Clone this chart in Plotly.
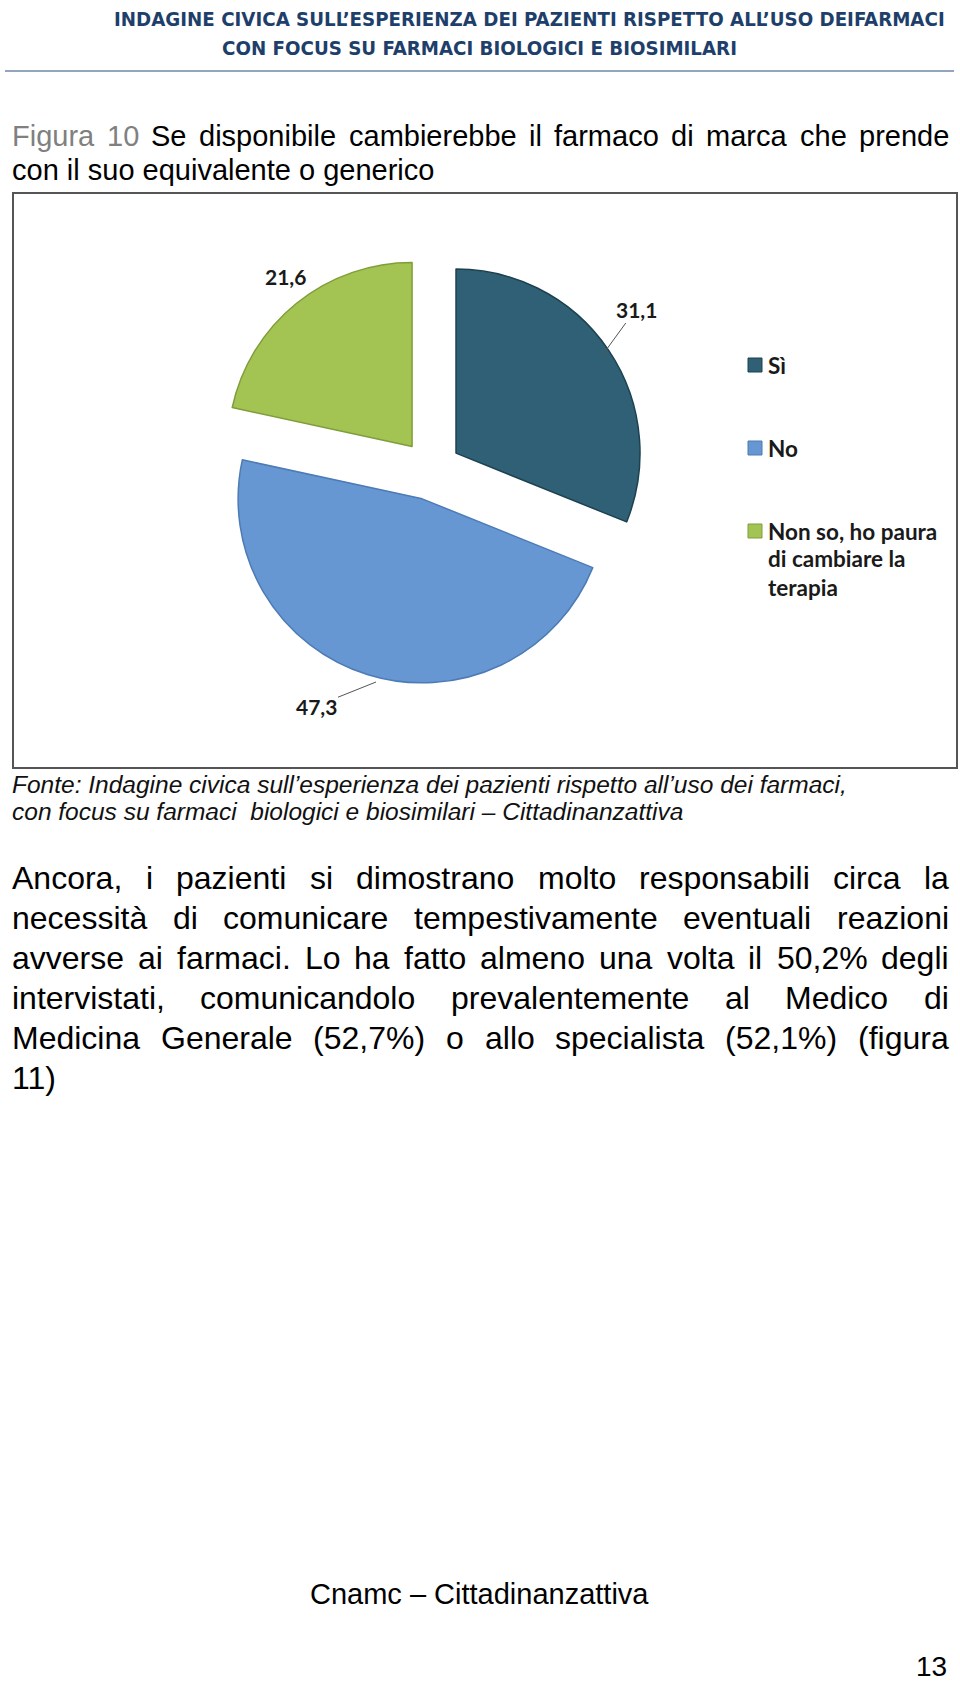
import plotly.graph_objects as go

W, H = 960, 1684

# ---------------- data ----------------
categories = ["Sì", "No", "Non so, ho paura di cambiare la terapia"]
values = [31.1, 47.3, 21.6]
legend_labels = ["Sì", "No", "Non so, ho paura<br>di cambiare la<br>terapia"]
slice_colors = ["#2f6075", "#6797d2", "#a3c453"]
slice_edges = ["#1d4150", "#4c7bb5", "#7f9d3a"]

header_lines = [
    "INDAGINE CIVICA SULL’ESPERIENZA DEI PAZIENTI RISPETTO ALL’USO DEIFARMACI",
    "CON FOCUS SU FARMACI BIOLOGICI E BIOSIMILARI",
]
title_prefix = "Figura 10"
title_line1 = "Se disponibile cambierebbe il farmaco di marca che prende"
title_line2 = "con il suo equivalente o generico"
source_lines = [
    "Fonte: Indagine civica sull’esperienza dei pazienti rispetto all’uso dei farmaci,",
    "con focus su farmaci  biologici e biosimilari – Cittadinanzattiva",
]
body_lines = [
    "Ancora, i pazienti si dimostrano molto responsabili circa la",
    "necessità di comunicare tempestivamente eventuali reazioni",
    "avverse ai farmaci. Lo ha fatto almeno una volta il 50,2% degli",
    "intervistati, comunicandolo prevalentemente al Medico di",
    "Medicina Generale (52,7%) o allo specialista (52,1%) (figura",
    "11)",
]
footer_text = "Cnamc – Cittadinanzattiva"
page_number = "13"

# ---------------- helpers ----------------
def px(x):
    return x / W

def py(y):
    return 1 - y / H

# Arial / Liberation Sans advance widths (1/1000 em)
AW = {' ': 278, '!': 278, '%': 889, '(': 333, ')': 333, ',': 278, '-': 333, '.': 278,
      ':': 278, '’': 222, '–': 556, 'à': 556, 'ì': 278}
for ch in '0123456789':
    AW[ch] = 556
AW.update(dict(zip('ABCDEFGHIJKLMNOPQRSTUVWXYZ',
                   [667, 667, 722, 722, 667, 611, 778, 722, 278, 500, 667, 556, 833,
                    722, 778, 667, 778, 722, 667, 611, 722, 667, 944, 667, 667, 611])))
AW.update(dict(zip('abcdefghijklmnopqrstuvwxyz',
                   [556, 556, 500, 556, 556, 278, 556, 556, 222, 222, 500, 222, 833,
                    556, 556, 556, 556, 333, 500, 278, 556, 500, 722, 500, 500, 500])))

def tw(s, fs):
    return sum(AW.get(c, 556) for c in s) / 1000.0 * fs

SANS = "Liberation Sans, Arial, sans-serif"
annotations = []

def add_text(x, y, text, size, color="#000000", family=SANS, xanchor="left", bold=False,
             italic=False, yanchor="middle"):
    if bold:
        text = "<b>" + text + "</b>"
    if italic:
        text = "<i>" + text + "</i>"
    annotations.append(dict(x=px(x), y=py(y), xref="paper", yref="paper", text=text,
                            showarrow=False, xanchor=xanchor, yanchor=yanchor,
                            borderpad=0, font=dict(size=size, color=color, family=family)))

def justify(words, colors, x0, x1, y, fs):
    total = sum(tw(w, fs) for w in words)
    gap = (x1 - x0 - total) / max(len(words) - 1, 1)
    gap = max(gap, 0.2 * fs)
    x = x0
    for w, c in zip(words, colors):
        add_text(x, y, w, fs, color=c)
        x += tw(w, fs) + gap

# ---------------- page header ----------------
HEAD_FONT = "DejaVu Sans Condensed, Liberation Sans, sans-serif"
add_text(946, 19, header_lines[0], 20.3, color="#1f3f6b", family=HEAD_FONT, bold=True,
         xanchor="right")
add_text(221, 48, header_lines[1], 20.3, color="#1f3f6b", family=HEAD_FONT, bold=True)

# ---------------- figure title ----------------
TFS = 29
t1_words = title_prefix.split(" ") + title_line1.split(" ")
t1_colors = ["#808080"] * len(title_prefix.split(" ")) + ["#000000"] * len(title_line1.split(" "))
justify(t1_words, t1_colors, 11, 948, 136, TFS)
add_text(11, 170, title_line2, TFS)

# ---------------- source ----------------
add_text(11, 784, source_lines[0], 24.5, color="#111111", italic=True)
add_text(11, 811, source_lines[1], 24.5, color="#111111", italic=True)

# ---------------- body paragraph ----------------
BFS = 32
body_y = [878, 918, 958, 998, 1038, 1078]
for i, (line, yy) in enumerate(zip(body_lines, body_y)):
    if i < len(body_lines) - 1:
        ws = line.split(" ")
        justify(ws, ["#000000"] * len(ws), 11, 948, yy, BFS)
    else:
        add_text(11, yy, line, BFS)

# ---------------- footer ----------------
add_text(309, 1594, footer_text, 29)
add_text(948, 1666, page_number, 28, xanchor="right")

# ---------------- pie ----------------
cx, cy, r, pull = 431, 470, 184, 0.164
half = r * (1 + pull)
fig = go.Figure()
fig.add_trace(go.Pie(
    labels=categories, values=values, sort=False, direction="clockwise", rotation=0,
    pull=[pull] * len(values),
    marker=dict(colors=slice_colors, line=dict(color=slice_edges, width=1.5)),
    textinfo="none", hoverinfo="label+value", showlegend=False,
    domain=dict(x=[px(cx - half), px(cx + half)], y=[py(cy + half), py(cy - half)]),
))

# data labels (values from data)
LAB_FONT = "Lato, Open Sans, sans-serif"
label_pos = [  # (text center x, y, arrow tip x, y or None)
    (636, 309, 601, 357),
    (316, 706, 376, 682),
    (263, 262, None, None),
]
for v, (lx, ly, ax_, ay_) in zip(values, label_pos):
    txt = "<b>" + f"{v:.1f}".replace(".", ",") + "</b>"
    if ax_ is None:
        annotations.append(dict(x=px(lx), y=py(ly), xref="paper", yref="paper", text=txt,
                                showarrow=False, font=dict(size=21, color="#1a1a1a",
                                                           family=LAB_FONT)))
    else:
        annotations.append(dict(x=px(ax_), y=py(ay_), xref="paper", yref="paper", text=txt,
                                showarrow=True, arrowhead=0, arrowwidth=1, arrowcolor="#555555",
                                ax=lx - ax_, ay=ly - ay_, standoff=0, startstandoff=0,
                                font=dict(size=21, color="#1a1a1a", family=LAB_FONT)))

# legend (manual, to reproduce the wide spacing of the original)
shapes = []
sq_y = [365, 448, 531]
line_step = 28
for lab, sy, col, edge in zip(legend_labels, sq_y, slice_colors, slice_edges):
    shapes.append(dict(type="rect", xref="paper", yref="paper",
                       x0=px(748), x1=px(762), y0=py(sy + 7), y1=py(sy - 7),
                       fillcolor=col, line=dict(color=edge, width=1)))
    for k, part in enumerate(lab.split("<br>")):
        add_text(767, sy + k * line_step, part, 22.5, color="#1a1a1a", family=LAB_FONT,
                 bold=True)

# chart frame and header rule
shapes.append(dict(type="rect", xref="paper", yref="paper", x0=px(13), x1=px(957),
                   y0=py(768), y1=py(193), line=dict(color="#555555", width=2)))
shapes.append(dict(type="line", xref="paper", yref="paper", x0=px(5), x1=px(954),
                   y0=py(71), y1=py(71), line=dict(color="#6f87a8", width=1.5)))

fig.update_layout(
    width=W, height=H, margin=dict(l=0, r=0, t=0, b=0),
    paper_bgcolor="white", plot_bgcolor="white",
    separators=",.",
    annotations=annotations, shapes=shapes, showlegend=False,
)
fig.write_html("out.html")
